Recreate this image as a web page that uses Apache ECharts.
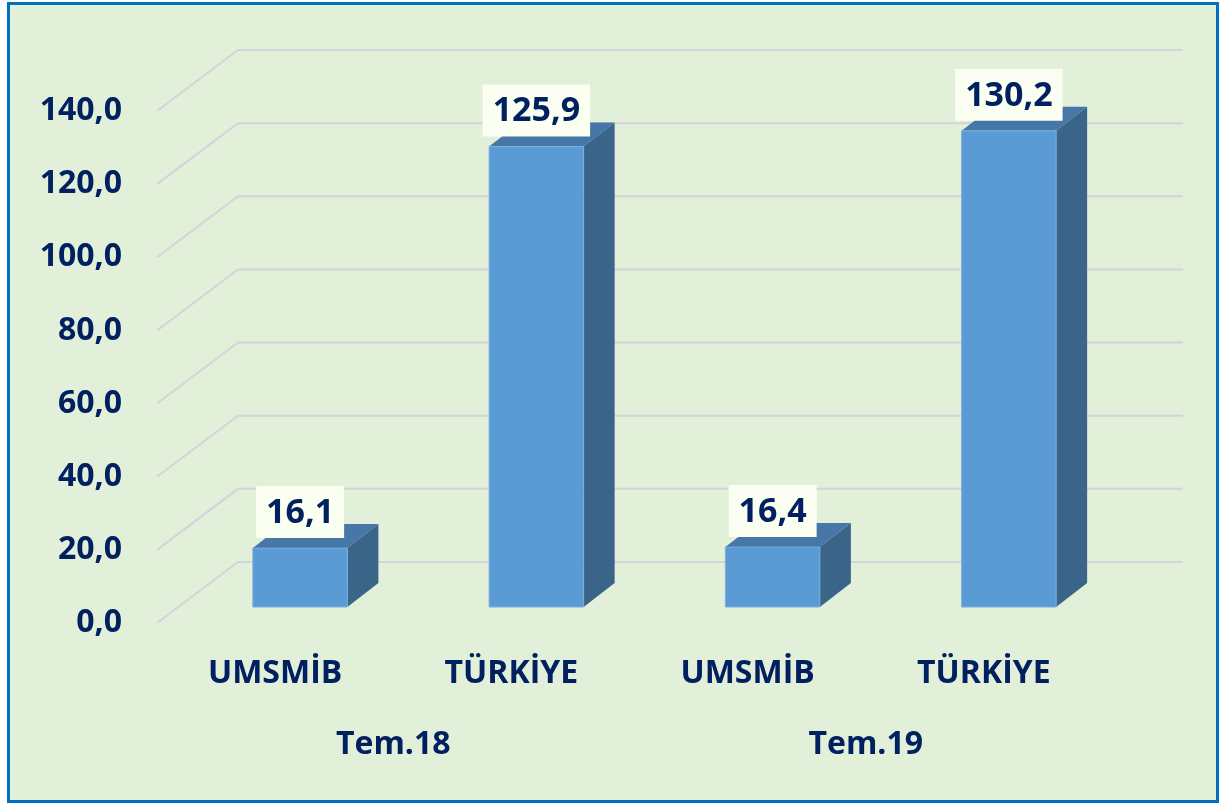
<!DOCTYPE html>
<html>
<head>
<meta charset="utf-8">
<script src="https://cdn.jsdelivr.net/npm/echarts@6/dist/echarts.min.js"></script>
<style>
  html, body { margin: 0; padding: 0; background: #fff; }
  #chart { width: 1219px; height: 803px; }
</style>
</head>
<body>
<div id="chart"></div>
<script>
const categories = ["UMSMİB", "TÜRKİYE", "UMSMİB", "TÜRKİYE"];
const periods = ["Tem.18", "Tem.19"];
const values = [16.1, 125.9, 16.4, 130.2];
const yTicks = [0, 20, 40, 60, 80, 100, 120, 140];

const NAVY = "#002060";
const FONT = "Open Sans";
// perspective offsets
const WALL_DX = 81, WALL_DY = -61;   // front edge -> back wall
const BAR_DX = 25, BAR_DY = -16;     // bars sit a bit behind the front edge
const DEPTH_DX = 31, DEPTH_DY = -24; // bar depth

const fmt = v => v.toFixed(1).replace(".", ",");

const chart = echarts.init(document.getElementById("chart"));

chart.setOption({
  backgroundColor: "#ffffff",
  animation: false,
  graphic: [{
    type: "rect",
    z: -10,
    shape: { x: 8.5, y: 3.5, width: 1209, height: 798 },
    style: { fill: "#e2efd9", stroke: "#0070c0", lineWidth: 3 }
  }],
  grid: { left: 157, right: 117, top: 111, bottom: 180 },
  xAxis: [
    {
      type: "category",
      data: categories,
      axisLine: { show: false },
      axisTick: { show: false },
      axisLabel: { color: NAVY, fontFamily: FONT, fontWeight: "bold", fontSize: 32, margin: 35 }
    },
    {
      type: "category",
      data: periods,
      position: "bottom",
      offset: 71,
      axisLine: { show: false },
      axisTick: { show: false },
      axisLabel: { color: NAVY, fontFamily: FONT, fontWeight: "bold", fontSize: 32, margin: 35 }
    }
  ],
  yAxis: {
    type: "value",
    min: 0,
    max: 140,
    interval: 20,
    axisLine: { show: false },
    axisTick: { show: false },
    splitLine: { show: false },
    axisLabel: {
      color: NAVY, fontFamily: FONT, fontWeight: "bold", fontSize: 32, margin: 35,
      formatter: v => fmt(v)
    }
  },
  series: [
    {
      // perspective gridlines
      type: "custom",
      z: 1,
      silent: true,
      data: yTicks.map(t => [0, t]),
      renderItem: (params, api) => {
        const band = api.size([1, 0])[0];
        const p0 = api.coord([0, api.value(1)]);
        const p3 = api.coord([categories.length - 1, api.value(1)]);
        const left = p0[0] - band / 2;
        const right = p3[0] + band / 2;
        const y = p0[1];
        return {
          type: "polyline",
          shape: { points: [[left, y], [left + WALL_DX, y + WALL_DY], [right + WALL_DX, y + WALL_DY]] },
          style: { stroke: "#d4d3db", lineWidth: 2, fill: null }
        };
      }
    },
    {
      // 3D bars
      type: "custom",
      z: 2,
      data: values.map((v, i) => [i, v]),
      renderItem: (params, api) => {
        const band = api.size([1, 0])[0];
        const w = band * 0.4;
        const top = api.coord([api.value(0), api.value(1)]);
        const base = api.coord([api.value(0), 0]);
        const x0 = top[0] - w / 2 + BAR_DX;
        const x1 = x0 + w;
        const yt = top[1] + BAR_DY;
        const yb = base[1] + BAR_DY;
        const cx = top[0] + BAR_DX;
        return {
          type: "group",
          children: [
            {
              type: "polygon",
              shape: { points: [[x0, yt], [x1, yt], [x1 + DEPTH_DX, yt + DEPTH_DY], [x0 + DEPTH_DX, yt + DEPTH_DY]] },
              style: { fill: "#4677a7" }
            },
            {
              type: "polygon",
              shape: { points: [[x1, yt], [x1 + DEPTH_DX, yt + DEPTH_DY], [x1 + DEPTH_DX, yb + DEPTH_DY], [x1, yb]] },
              style: { fill: "#3a6488" }
            },
            {
              type: "rect",
              shape: { x: x0, y: yt, width: w, height: yb - yt },
              style: { fill: "#5b9bd5", stroke: "#79aedc", lineWidth: 1 }
            },
            {
              type: "text",
              x: cx,
              y: yt - 10,
              style: {
                text: fmt(api.value(1)),
                fill: NAVY,
                font: "bold 34px '" + FONT + "'",
                align: "center",
                verticalAlign: "bottom",
                backgroundColor: "#fbfff2",
                padding: [10, 10, 8, 10]
              }
            }
          ]
        };
      }
    }
  ]
});
</script>
</body>
</html>
